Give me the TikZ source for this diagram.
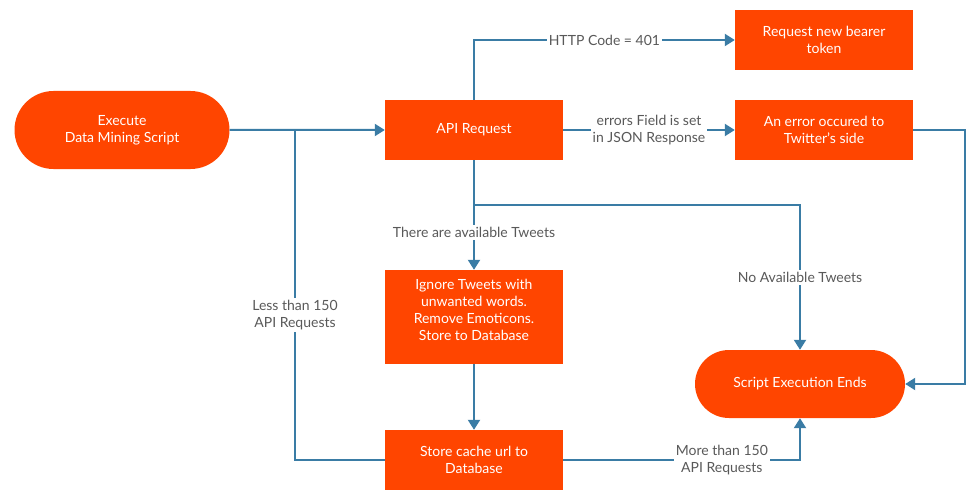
\documentclass[tikz,border=0pt]{standalone}
\usepackage{fontspec}
\setmainfont{Lato}
\usetikzlibrary{arrows.meta,shapes.misc}
\definecolor{boxorange}{HTML}{FF4500}
\definecolor{linkblue}{HTML}{3A7CA5}
\definecolor{labelgray}{HTML}{595959}
\begin{document}
\begin{tikzpicture}[x=1pt,y=-1pt,font=\fontsize{14}{17}\selectfont]
        \tikzstyle{process}=[rectangle,fill=boxorange,text=white,minimum width=178pt,minimum height=60pt,align=center,inner sep=2pt]
        \tikzstyle{terminal}=[rounded rectangle,fill=boxorange,text=white,align=center,inner sep=2pt]
        \tikzstyle{link}=[draw,line width=2pt,linkblue]
        \tikzstyle{edge}=[link,-{Triangle[width=12pt,length=10pt]}]
        \tikzstyle{cond}=[fill=white,text=labelgray,align=center,inner sep=2pt]
        \useasboundingbox (0,0) rectangle (974,500);
        \node [terminal,minimum width=219pt,minimum height=78pt] (exec) at (122,130) {Execute\\Data Mining Script};
        \node [process] (api) at (474,130) {API Request};
        \node [process] (token) at (824,40) {Request new bearer\\token};
        \node [process] (err) at (824,130) {An error occured to\\Twitter's side};
        \node [process,minimum height=94pt] (ignore) at (474,317) {Ignore Tweets with\\unwanted words.\\Remove Emoticons.\\Store to Database\\[-3pt]\mbox{}};
        \node [process] (cache) at (474,460) {Store cache url to\\Database};
        \node [terminal,minimum width=214pt,minimum height=68pt] (end) at (800,384) {Script Execution Ends};
        \coordinate (loop) at (295,130);
        \coordinate (split) at (474,205);
        \path[edge] (exec) -- (api);
        \path[link] (cache.west) -| (loop) node[cond,pos=0.72] {Less than 150\\API Requests};
        \path[edge] (api.north) |- (token.west) node[cond,pos=0.75] {HTTP Code = 401};
        \path[edge] (api) -- (err) node[cond,midway] {errors Field is set\\in JSON Response};
        \path[edge] (api.south) -- (ignore.north) node[cond,pos=0.66] {There are available Tweets};
        \path[edge] (split) -| (end.north) node[cond,pos=0.75] {No Available Tweets};
        \path[edge] (ignore) -- (cache);
        \path[edge] (cache.east) -| (end.south) node[cond,pos=0.335] {More than 150\\API Requests};
        \path[edge] (err.east) -- ++(52,0) |- (end.east);
\end{tikzpicture}
\end{document}
